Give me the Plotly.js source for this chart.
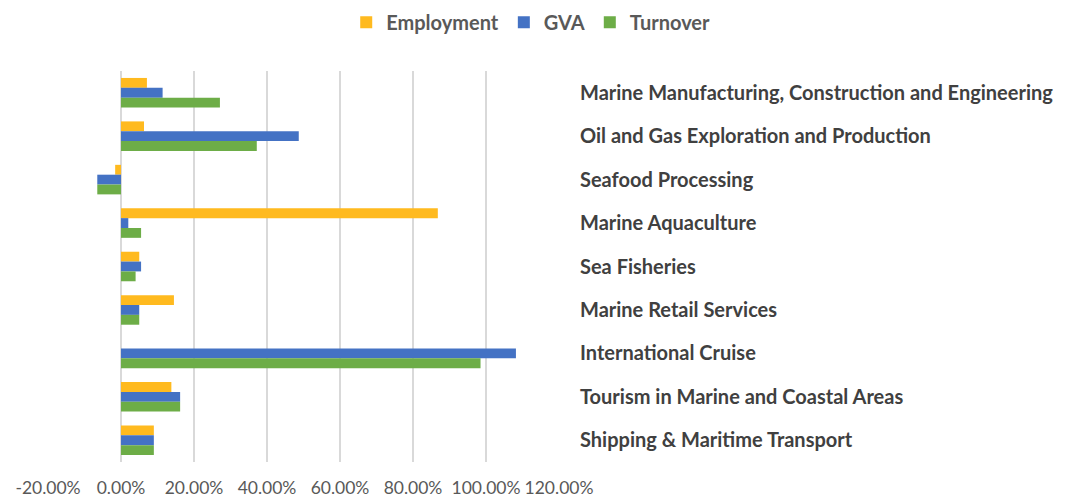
<!DOCTYPE html>
<html>
<head>
<meta charset="utf-8">
<script src="https://cdn.plot.ly/plotly-3.0.1.min.js"></script>
<style>html,body{margin:0;padding:0;background:#fff;}#chart{width:1070px;height:497px;}</style>
</head>
<body>
<div id="chart"></div>
<script>
const categories = [
  "Marine Manufacturing, Construction and Engineering",
  "Oil and Gas Exploration and Production",
  "Seafood Processing",
  "Marine Aquaculture",
  "Sea Fisheries",
  "Marine Retail Services",
  "International Cruise",
  "Tourism in Marine and Coastal Areas",
  "Shipping & Maritime Transport"
];
const employment = [0.071, 0.063, -0.016, 0.868, 0.050, 0.145, 0.0, 0.138, 0.090];
const gva        = [0.114, 0.487, -0.065, 0.020, 0.055, 0.050, 1.082, 0.162, 0.090];
const turnover   = [0.271, 0.372, -0.065, 0.055, 0.040, 0.050, 0.985, 0.162, 0.090];
const tickVals = [-0.2, 0, 0.2, 0.4, 0.6, 0.8, 1.0, 1.2];
const tickText = ["-20.00%", "0.00%", "20.00%", "40.00%", "60.00%", "80.00%", "100.00%", "120.00%"];

const FONT = "Lato, 'Open Sans', sans-serif";
const traces = [
  {name: "Employment", x: employment, color: "#FFBA1F"},
  {name: "GVA", x: gva, color: "#4472C4"},
  {name: "Turnover", x: turnover, color: "#6DAD47"}
].map(s => ({
  type: "bar", orientation: "h", name: s.name, x: s.x, y: categories,
  marker: {color: s.color}, hoverinfo: "x+y"
}));

const layout = {
  width: 1070, height: 497,
  margin: {l: 48, r: 511, t: 71, b: 35},
  paper_bgcolor: "#fff", plot_bgcolor: "#fff",
  barmode: "group", bargap: 0.32, bargroupgap: 0,
  font: {family: FONT, color: "#595959", size: 17},
  showlegend: true,
  legend: {
    orientation: "h", xref: "container", yref: "container",
    x: 0.496, xanchor: "center", y: 0.955, yanchor: "middle",
    font: {family: FONT, size: 20, color: "#595959", weight: "bold"},
    itemwidth: 30, traceorder: "normal"
  },
  xaxis: {
    range: [-0.2, 1.2], tickvals: tickVals, ticktext: tickText,
    showgrid: true, gridcolor: "#d9d9d9", gridwidth: 1.3,
    zeroline: true, zerolinecolor: "#d9d9d9", zerolinewidth: 1.3,
    showline: false, ticks: "", ticklabelstandoff: 13,
    tickfont: {family: FONT, size: 17.5, color: "#595959"}, fixedrange: true
  },
  yaxis: {
    type: "category", autorange: "reversed", side: "right",
    showgrid: false, zeroline: false, showline: false, ticks: "",
    ticklabelstandoff: 20,
    tickfont: {family: FONT, size: 20, color: "#404040", weight: "bold"}, fixedrange: true
  }
};

Plotly.newPlot("chart", traces, layout, {displayModeBar: false, staticPlot: true});
</script>
</body>
</html>
